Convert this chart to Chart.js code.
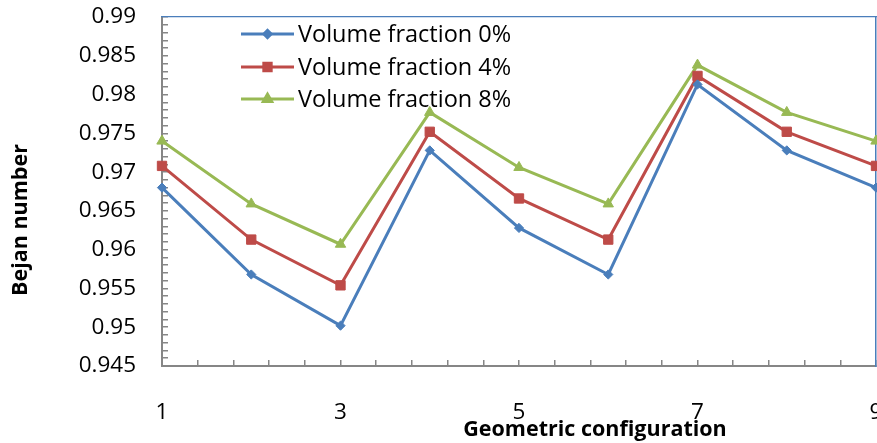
<!DOCTYPE html>
<html>
<head>
<meta charset="utf-8">
<title>Bejan number by geometric configuration</title>
<script src="https://cdn.jsdelivr.net/npm/chart.js@4/dist/chart.umd.min.js"></script>
<style>
  html, body { margin: 0; padding: 0; background: #ffffff; }
  #wrap { width: 877px; height: 443px; }
</style>
</head>
<body>
<div id="wrap"><canvas id="chart" width="877" height="443"></canvas></div>
<script>
// Geometric configurations (x) and Bejan number for each nanofluid volume fraction
const categories = [1, 2, 3, 4, 5, 6, 7, 8, 9];
const fraction0 = [0.968, 0.9568, 0.9502, 0.9728, 0.9628, 0.9568, 0.9813, 0.9728, 0.968];
const fraction4 = [0.9708, 0.9613, 0.9554, 0.9752, 0.9666, 0.9613, 0.9824, 0.9752, 0.9708];
const fraction8 = [0.974, 0.9659, 0.9607, 0.9777, 0.9706, 0.9659, 0.9838, 0.9777, 0.974];
const seriesNames = ['Volume fraction 0%', 'Volume fraction 4%', 'Volume fraction 8%'];
const xTickLabels = [1, 3, 5, 7, 9];
const yTickLabels = [0.945, 0.95, 0.955, 0.96, 0.965, 0.97, 0.975, 0.98, 0.985, 0.99];

const xTitle = 'Geometric configuration';
const yTitle = 'Bejan number';

const BLUE = '#4A7EBB', RED = '#BE4B48', GREEN = '#98B954';
const AXIS = '#868686';
const FONT = '"Open Sans", "Liberation Sans", sans-serif';

function toPoints(values) {
  return categories.map((c, i) => ({ x: c, y: values[i] }));
}

function labelFor(list, value) {
  const hit = list.find(v => Math.abs(v - value) < 1e-7);
  return hit === undefined ? '' : String(hit);
}

// Vertical legend in the upper-left of the plot
const innerLegend = {
  id: 'innerLegend',
  afterDatasetsDraw(chart) {
    const ctx = chart.ctx;
    const rows = [34, 67, 99];
    const x0 = 241, x1 = 294, textX = 298;
    const legendRadius = [3.6, 5.2, 4.8];
    ctx.save();
    chart.data.datasets.forEach((ds, i) => {
      const y = rows[i];
      ctx.strokeStyle = ds.borderColor;
      ctx.lineWidth = 3;
      ctx.beginPath();
      ctx.moveTo(x0, y);
      ctx.lineTo(x1, y);
      ctx.stroke();
      ctx.fillStyle = ds.pointBackgroundColor;
      ctx.strokeStyle = ds.pointBorderColor;
      Chart.helpers.drawPoint(ctx, {
        pointStyle: ds.pointStyle, radius: legendRadius[i], rotation: 0, borderWidth: 1
      }, (x0 + x1) / 2, y);
      ctx.fillStyle = '#000000';
      ctx.font = '23.5px ' + FONT;
      ctx.textAlign = 'left';
      ctx.textBaseline = 'alphabetic';
      ctx.fillText(ds.label, textX, y + 8);
    });
    ctx.restore();
  }
};

// Axis titles
const axisTitles = {
  id: 'axisTitles',
  afterDraw(chart) {
    const ctx = chart.ctx;
    ctx.save();
    ctx.fillStyle = '#000000';
    ctx.font = 'bold 21.5px ' + FONT;
    ctx.textAlign = 'center';
    ctx.textBaseline = 'middle';
    ctx.fillText(xTitle, 595, 430);
    ctx.translate(21, 220);
    ctx.rotate(-Math.PI / 2);
    ctx.fillText(yTitle, 0, 0);
    ctx.restore();
  }
};

const series = [
  { label: seriesNames[0], data: toPoints(fraction0), color: BLUE, style: 'rectRot', radius: 4.6 },
  { label: seriesNames[1], data: toPoints(fraction4), color: RED, style: 'rect', radius: 6.6 },
  { label: seriesNames[2], data: toPoints(fraction8), color: GREEN, style: 'triangle', radius: 6 }
];

new Chart(document.getElementById('chart'), {
  type: 'line',
  data: {
    datasets: series.map(s => ({
      label: s.label,
      data: s.data,
      borderColor: s.color,
      backgroundColor: s.color,
      pointBackgroundColor: s.color,
      pointBorderColor: s.color,
      pointStyle: s.style,
      pointRadius: s.radius,
      pointHoverRadius: s.radius,
      pointBorderWidth: 1,
      borderWidth: 3,
      tension: 0,
      clip: false
    }))
  },
  options: {
    responsive: false,
    animation: false,
    events: [],
    layout: { autoPadding: false, padding: { top: 17, right: 1, left: 0, bottom: 0 } },
    plugins: { legend: { display: false }, tooltip: { enabled: false } },
    scales: {
      x: {
        type: 'linear',
        position: 'bottom',
        min: 1,
        max: 9,
        grid: { display: true, drawOnChartArea: false, drawTicks: true, tickLength: -6, color: AXIS, lineWidth: 1.5 },
        border: { display: true, color: AXIS, width: 2 },
        ticks: {
          stepSize: 0.4,
          autoSkip: false,
          maxRotation: 0,
          padding: 39,
          color: '#000000',
          font: { family: FONT, size: 22.5 },
          callback: v => labelFor(xTickLabels, v)
        },
        afterFit(scale) { scale.height = 77; scale.paddingLeft = 0; scale.paddingRight = 0; }
      },
      y: {
        type: 'linear',
        position: 'left',
        min: 0.945,
        max: 0.99,
        grid: { display: true, drawOnChartArea: false, drawTicks: true, tickLength: -6, color: AXIS, lineWidth: 1.5 },
        border: { display: true, color: AXIS, width: 2 },
        ticks: {
          stepSize: 0.001,
          autoSkip: false,
          padding: 32,
          color: '#000000',
          font: { family: FONT, size: 22.5 },
          callback: v => labelFor(yTickLabels, v)
        },
        afterFit(scale) { scale.width = 162; scale.paddingTop = 0; scale.paddingBottom = 0; }
      },
      xTop: {
        type: 'linear',
        position: 'top',
        grid: { display: false },
        ticks: { display: false },
        border: { display: true, color: BLUE, width: 1.2 },
        afterFit(scale) { scale.height = 0; scale.paddingLeft = 0; scale.paddingRight = 0; }
      },
      yRight: {
        type: 'linear',
        position: 'right',
        grid: { display: false },
        ticks: { display: false },
        border: { display: true, color: BLUE, width: 1.5 },
        afterFit(scale) { scale.width = 0; scale.paddingTop = 0; scale.paddingBottom = 0; }
      }
    }
  },
  plugins: [innerLegend, axisTitles]
});
</script>
</body>
</html>
